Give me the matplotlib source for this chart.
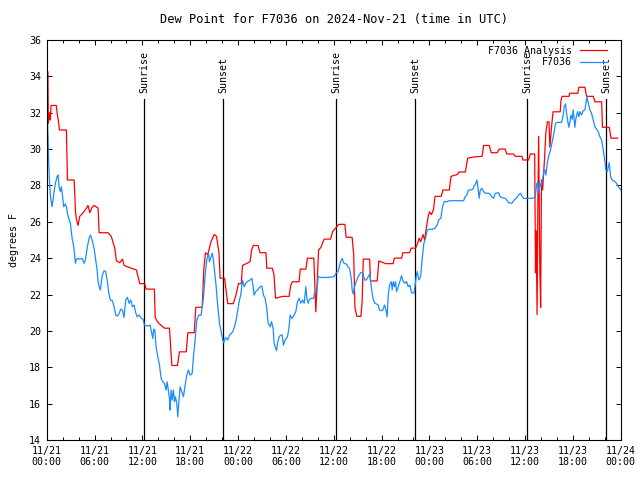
import matplotlib
matplotlib.use("Agg")
import matplotlib.pyplot as plt

# ==========================
# Veri (saat, 2024-11-21 00:00 UTC'den itibaren)
# ==========================
analiz_saat = [0.0, 0.15, 0.2, 0.35, 0.45, 0.55, 1.2, 1.3, 1.45, 1.6, 2.47, 2.6, 3.43, 3.5,
               3.6, 3.7, 3.93, 4.14, 4.56, 4.98, 5.18, 5.4, 5.7, 5.94, 6.44, 6.57, 7.7, 8.1,
               8.53, 8.74, 9.16, 9.5, 9.7, 10.6, 11.25, 11.67, 12.3, 12.46, 13.5, 13.6, 13.9,
               14.35, 14.77, 15.4, 15.6, 15.7, 16.4, 16.65, 17.5, 17.7, 18.5, 18.7, 19.5, 19.7,
               19.9, 20.2, 20.6, 21.0, 21.3, 21.6, 21.75, 22.3, 22.7, 23.4, 23.75, 24.05, 24.4,
               24.55, 25.5, 25.7, 25.9, 26.5, 26.76, 27.5, 27.6, 28.3, 28.5, 28.7, 29.6, 30.4,
               30.6, 30.8, 31.65, 31.8, 32.5, 32.7, 33.5, 33.75, 33.96, 34.1, 34.4, 34.8, 35.6,
               35.85, 36.5, 36.64, 37.4, 37.55, 38.3, 38.5, 38.65, 38.9, 39.4, 39.56, 39.7,
               40.5, 40.6, 41.45, 41.65, 42.5, 43.45, 43.6, 44.5, 44.67, 45.5, 45.7, 46.26,
               46.5, 46.7, 46.9, 47.2, 47.4, 47.6, 47.85, 48.0, 48.25, 48.5, 48.7, 49.47, 49.7,
               50.5, 50.7, 51.5, 51.7, 52.5, 52.8, 53.6, 54.6, 54.8, 55.5, 55.75, 56.5, 56.75,
               57.5, 57.7, 58.55, 58.76, 59.6, 59.72, 60.44, 60.64, 61.2, 61.3, 61.38, 61.5,
               61.6, 61.7, 61.85, 61.95, 62.05, 62.2, 62.45, 62.6, 62.8, 63.0, 63.1, 63.3,
               63.5, 64.4, 64.5, 64.65, 65.5, 65.6, 66.6, 66.75, 67.5, 67.7, 68.55, 68.76,
               69.6, 69.7, 70.55, 70.77, 71.6]
analiz_deger = [34.25, 34.25, 31.4, 32.0, 31.6, 32.4, 32.4, 32.0, 31.6, 31.05, 31.05, 28.3, 28.3, 27.75,
                26.6, 26.2, 25.8, 26.3, 26.5, 26.75, 26.9, 26.5, 26.8, 26.9, 26.75, 25.4, 25.4, 25.2,
                24.55, 23.85, 23.75, 23.95, 23.6, 23.45, 23.35, 22.6, 22.6, 22.3, 22.3, 20.75, 20.5,
                20.3, 20.15, 20.15, 18.7, 18.1, 18.1, 18.85, 18.85, 19.9, 19.9, 21.3, 21.3, 23.35,
                24.3, 24.2, 24.9, 25.3, 25.2, 24.3, 22.9, 22.9, 21.5, 21.5, 22.0, 22.6, 22.6,
                23.6, 23.8, 24.45, 24.7, 24.7, 24.3, 24.3, 23.45, 23.45, 23.1, 21.8, 21.9, 21.9,
                22.5, 22.7, 22.7, 23.4, 23.4, 24.0, 24.0, 21.05, 23.1, 24.45, 24.6, 25.05, 25.05,
                25.45, 25.8, 25.86, 25.86, 25.15, 25.15, 24.2, 21.3, 20.8, 20.8, 21.6, 23.95,
                23.95, 22.75, 22.75, 23.85, 23.7, 23.7, 24.0, 24.0, 24.3, 24.3, 24.55, 24.55,
                24.8, 25.1, 24.9, 25.3, 25.0, 25.65, 26.3, 26.55, 26.4, 26.65, 27.4, 27.4, 27.75,
                27.75, 28.5, 28.6, 28.74, 28.74, 29.5, 29.57, 29.6, 30.2, 30.2, 29.8, 29.8, 30.0,
                30.0, 29.73, 29.73, 29.6, 29.6, 29.4, 29.4, 29.73, 29.73, 23.2, 25.5, 20.9,
                27.0, 30.7, 23.2, 21.3, 28.3, 27.75, 29.6, 30.9, 31.5, 31.5, 30.1, 31.15,
                32.05, 32.05, 32.7, 32.9, 32.9, 33.07, 33.07, 33.4, 33.4, 32.9, 32.9, 32.6,
                32.6, 31.2, 31.2, 30.6, 30.6]

istasyon_saat = [0.0, 0.17, 0.25, 0.38, 0.5, 0.67, 0.79, 0.92, 1.09, 1.3, 1.42, 1.55, 1.71, 1.84,
                 1.97, 2.13, 2.34, 2.47, 2.59, 2.76, 2.97, 3.18, 3.39, 3.6, 3.72, 3.93, 4.14, 4.43,
                 4.69, 4.85, 5.1, 5.31, 5.48, 5.69, 5.94, 6.15, 6.32, 6.44, 6.57, 6.73, 6.86, 6.98,
                 7.19, 7.4, 7.61, 7.78, 7.99, 8.24, 8.45, 8.66, 8.87, 9.08, 9.28, 9.49, 9.7, 9.91,
                 10.12, 10.33, 10.54, 10.75, 10.96, 11.12, 11.33, 11.59, 11.88, 12.09, 12.25,
                 12.67, 12.97, 13.17, 13.3, 13.42, 13.55, 13.72, 13.93, 14.14, 14.35, 14.55,
                 14.76, 14.97, 15.1, 15.27, 15.39, 15.47, 15.6, 15.73, 15.89, 16.02, 16.14,
                 16.31, 16.44, 16.56, 16.73, 16.94, 17.15, 17.36, 17.57, 17.77, 17.98, 18.24,
                 18.4, 18.61, 18.82, 19.07, 19.36, 19.57, 19.7, 19.87, 20.07, 20.28, 20.41,
                 20.62, 20.75, 20.91, 21.04, 21.25, 21.46, 21.67, 21.87, 22.08, 22.21, 22.42,
                 22.71, 22.92, 23.13, 23.34, 23.55, 23.76, 23.96, 24.17, 24.34, 24.55, 24.76,
                 24.97, 25.18, 25.51, 25.72, 25.89, 26.01, 26.22, 26.43, 26.77, 26.98, 27.18,
                 27.39, 27.6, 27.77, 28.02, 28.19, 28.4, 28.52, 28.65, 28.82, 28.94, 29.15,
                 29.36, 29.53, 29.69, 29.9, 30.2, 30.4, 30.53, 30.74, 31.03, 31.24, 31.45,
                 31.66, 31.87, 32.08, 32.29, 32.5, 32.62, 32.79, 32.91, 33.12, 33.46, 33.62,
                 33.88, 34.04, 34.38, 35.21, 36.05, 36.26, 36.55, 36.85, 37.06, 37.27, 37.56,
                 37.77, 37.98, 38.19, 38.31, 38.44, 38.6, 38.81, 39.07, 39.36, 39.65, 39.86,
                 40.07, 40.32, 40.53, 40.7, 40.91, 41.16, 41.37, 41.58, 41.74, 41.95, 42.16,
                 42.37, 42.5, 42.7, 42.83, 43.0, 43.21, 43.33, 43.46, 43.62, 43.75, 43.88,
                 44.08, 44.29, 44.5, 44.71, 44.92, 45.13, 45.34, 45.55, 45.76, 46.05, 46.18,
                 46.34, 46.47, 46.68, 46.89, 47.1, 47.3, 47.51, 47.72, 47.93, 48.35, 48.68,
                 48.98, 49.14, 49.43, 49.64, 49.85, 50.18, 50.52, 51.44, 52.28, 52.49, 52.69,
                 52.9, 53.11, 53.45, 53.61, 53.82, 53.95, 54.07, 54.24, 54.37, 54.58, 54.79,
                 54.99, 55.41, 55.62, 55.83, 56.04, 56.25, 56.67, 56.88, 57.09, 57.5, 57.71,
                 57.92, 58.34, 58.63, 58.88, 59.18, 59.39, 59.6, 59.8, 60.22, 60.85, 61.27,
                 61.43, 61.56, 61.73, 61.85, 61.98, 62.14, 62.31, 62.48, 62.6, 62.77, 62.98,
                 63.19, 63.4, 63.61, 63.82, 64.03, 64.57, 64.78, 64.9, 65.07, 65.2, 65.32,
                 65.49, 65.62, 65.74, 65.91, 66.03, 66.16, 66.24, 66.37, 66.58, 66.75, 66.87,
                 67.08, 67.29, 67.5, 67.62, 67.75, 67.92, 68.13, 68.33, 68.54, 68.75, 68.96,
                 69.17, 69.38, 69.59, 69.8, 70.01, 70.13, 70.3, 70.43, 70.55, 70.72, 70.93,
                 71.26, 71.47, 71.68, 71.89, 72.0]
istasyon_deger = [32.6, 30.68, 29.22, 27.93, 27.29, 26.83, 27.2, 27.66, 28.12, 28.48, 28.57, 27.93, 27.66, 27.93,
                  27.47, 26.83, 26.98, 26.83, 26.47, 26.19, 25.92, 25.09, 24.63, 23.72, 23.94, 23.99, 23.94, 23.99,
                  23.72, 23.9, 24.63, 25.09, 25.27, 25.0, 24.54, 23.9, 23.35, 22.71, 22.43, 22.25, 22.71, 23.07,
                  23.31, 23.26, 22.71, 22.07, 21.7, 21.66, 21.33, 20.87, 20.82, 20.97, 21.19, 21.15, 20.75, 21.7,
                  21.85, 21.52, 21.7, 21.33, 21.42, 21.06, 20.78, 20.87, 20.69, 20.64, 20.32,
                  20.27, 20.32, 19.86, 19.59, 20.1, 20.05, 19.13, 18.58, 18.12, 17.39, 17.2,
                  17.12, 16.75, 17.2, 16.66, 16.29, 15.65, 16.75, 16.2, 16.75, 16.11, 16.38,
                  16.02, 15.28, 16.02, 16.93, 16.66, 16.38, 17.02, 17.57, 17.85, 17.57, 17.66,
                  18.58, 19.5, 20.6, 20.87, 20.87, 21.5, 22.07, 23.07, 23.9, 24.27, 23.81,
                  24.08, 24.27, 23.9, 23.35, 22.43, 21.33, 20.42, 19.96, 19.5, 19.35, 19.64,
                  19.5, 19.77, 19.86, 19.96, 20.23, 20.6, 21.15, 21.7, 21.97, 22.8, 22.43,
                  22.62, 22.71, 22.8, 22.89, 22.43, 21.97, 22.16, 22.25, 22.43, 22.47, 21.97,
                  21.79, 21.24, 20.42, 20.23, 20.51, 20.14, 19.32, 19.13, 18.91, 19.32, 19.68,
                  19.77, 19.77, 19.22, 19.5, 19.68, 20.23, 20.87, 20.69, 20.87, 21.06, 21.61,
                  21.79, 21.52, 21.7, 21.52, 22.43, 21.79, 21.52, 21.7, 21.79, 21.79, 22.16,
                  22.16, 22.98, 22.94, 22.94, 22.98, 23.17, 23.26, 23.81, 23.99, 23.72, 23.68,
                  23.53, 23.44, 22.89, 22.25, 22.03, 22.43, 22.71, 22.98, 23.2, 23.2, 22.8,
                  22.8, 22.98, 23.13, 22.43, 21.79, 21.52, 21.48, 21.42, 21.15, 21.11, 21.15,
                  21.42, 21.24, 20.78, 21.97, 22.52, 22.71, 22.25, 22.71, 22.43, 22.71, 22.16,
                  22.43, 22.71, 23.04, 22.71, 22.62, 22.71, 22.43, 22.52, 22.1, 22.07, 22.43,
                  22.98, 23.26, 22.8, 22.98, 23.99, 24.82, 25.09, 25.55, 25.59, 25.59, 25.64,
                  25.82, 26.1, 26.19, 26.83, 27.11, 27.11, 27.16, 27.16, 27.16, 27.38, 27.47,
                  27.75, 27.75, 27.79, 27.97, 28.12, 28.3, 27.93, 27.29, 27.75, 27.84, 27.66,
                  27.57, 27.57, 27.51, 27.38, 27.29, 27.57, 27.6, 27.38, 27.33, 27.29, 27.2,
                  27.05, 27.02, 27.2, 27.29, 27.47, 27.57, 27.42, 27.29, 27.29, 27.29, 27.33,
                  28.02, 28.21, 27.57, 28.12, 27.93, 28.21, 28.67, 28.85, 28.57, 29.22, 29.67,
                  29.95, 30.41, 30.87, 31.42, 31.47, 31.47, 31.87, 32.33, 32.48, 31.97, 31.6,
                  31.2, 31.51, 31.87, 31.64, 32.15, 31.6, 31.2, 31.69, 32.06, 31.78, 32.06,
                  31.87, 32.11, 32.15, 32.52, 32.88, 32.52, 32.15, 31.97, 31.6, 31.23, 31.09,
                  30.96, 30.68, 30.5, 29.95, 29.31, 28.85, 28.76, 29.03, 29.25, 28.48, 28.3,
                  28.21, 28.12, 27.93, 27.84, 27.75]

gunes_saat = [12.2, 22.1, 36.3, 46.2, 60.25, 70.2]
gunes_etiket = ["Sunrise", "Sunset", "Sunrise", "Sunset", "Sunrise", "Sunset"]

tick_saat = list(range(0, 73, 6))
tick_etiket = ["11/21\n00:00", "11/21\n06:00", "11/21\n12:00", "11/21\n18:00",
               "11/22\n00:00", "11/22\n06:00", "11/22\n12:00", "11/22\n18:00",
               "11/23\n00:00", "11/23\n06:00", "11/23\n12:00", "11/23\n18:00",
               "11/24\n00:00"]

# ==========================
# Grafik
# ==========================
plt.rcParams["font.family"] = "DejaVu Sans Mono"
plt.rcParams["font.size"] = 7.2

fig = plt.figure(figsize=(6.4, 4.8), dpi=100)
ax = fig.add_axes([0.073, 0.0833, 0.897, 0.8334])

for s, etiket in zip(gunes_saat, gunes_etiket):
    ax.plot([s, s], [14, 32.75], color="black", lw=0.9)
    ax.text(s, 33.1, etiket, rotation=90, ha="center", va="bottom")

ax.plot(analiz_saat, analiz_deger, color="#ff0000", lw=0.9, label="F7036 Analysis")
ax.plot(istasyon_saat, istasyon_deger, color="#1a8cff", lw=0.9, label="F7036")

ax.set_xlim(0, 72)
ax.set_ylim(14, 36)
ax.set_xticks(tick_saat)
ax.set_xticklabels(tick_etiket)
ax.set_xticks(range(0, 73, 2), minor=True)
ax.set_yticks(range(14, 37, 2))
ax.tick_params(which="both", direction="in", top=True, right=True, width=0.7)
ax.tick_params(which="major", length=3.6, pad=4)
ax.tick_params(which="minor", length=2.2)
for sp in ax.spines.values():
    sp.set_linewidth(0.8)

ax.set_ylabel("degrees F", labelpad=7)
ax.set_title("Dew Point for F7036 on 2024-Nov-21 (time in UTC)", pad=12)

ax.legend(loc="upper right", bbox_to_anchor=(0.987, 1.0), frameon=False, markerfirst=False,
          handlelength=2.7, borderaxespad=0.2, labelspacing=0.15, handletextpad=0.8)

fig.savefig("out.png", dpi=100)
